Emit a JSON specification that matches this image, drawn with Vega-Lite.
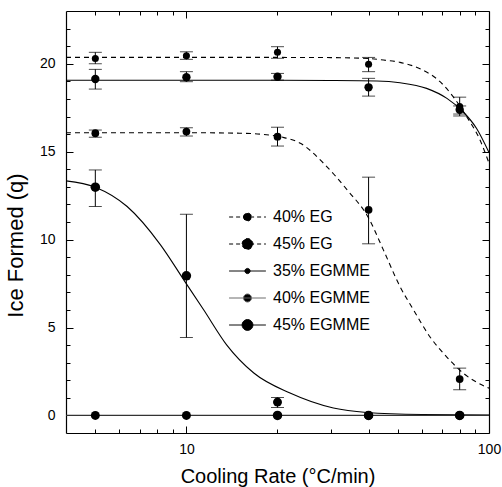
{
  "$schema": "https://vega.github.io/schema/vega-lite/v6.json",
  "width": 423,
  "height": 422,
  "autosize": {"type": "none"},
  "padding": {"left": 66, "top": 11, "right": 13, "bottom": 54},
  "background": "white",
  "config": {
    "view": {"stroke": null},
    "font": "Liberation Sans",
    "axis": {
      "domainColor": "black",
      "domainWidth": 1.2,
      "tickColor": "black",
      "tickWidth": 1,
      "labelColor": "black",
      "labelFont": "Liberation Sans",
      "labelFontSize": 14,
      "titleColor": "black",
      "titleFont": "Liberation Sans",
      "titleFontSize": 20,
      "titleFontWeight": "normal",
      "grid": false
    }
  },
  "datasets": {
    "fits": [
      {"s": "40% EG", "r": 4, "q": 20.36}, {"s": "40% EG", "r": 10, "q": 20.36}, {"s": "40% EG", "r": 20, "q": 20.36}, {"s": "40% EG", "r": 30, "q": 20.35}, {"s": "40% EG", "r": 40, "q": 20.3}, {"s": "40% EG", "r": 44.8, "q": 20.21}, {"s": "40% EG", "r": 50.8, "q": 20.08}, {"s": "40% EG", "r": 59.4, "q": 19.7}, {"s": "40% EG", "r": 68.9, "q": 18.98}, {"s": "40% EG", "r": 76.1, "q": 18.13}, {"s": "40% EG", "r": 84.4, "q": 16.99}, {"s": "40% EG", "r": 93.4, "q": 15.66}, {"s": "40% EG", "r": 100, "q": 14.35},
      {"s": "35% EGMME", "r": 4, "q": 19.06}, {"s": "35% EGMME", "r": 10, "q": 19.06}, {"s": "35% EGMME", "r": 20, "q": 19.06}, {"s": "35% EGMME", "r": 30, "q": 19.05}, {"s": "35% EGMME", "r": 42.6, "q": 19.02}, {"s": "35% EGMME", "r": 50.8, "q": 18.92}, {"s": "35% EGMME", "r": 62.2, "q": 18.6}, {"s": "35% EGMME", "r": 72.6, "q": 18.03}, {"s": "35% EGMME", "r": 82.1, "q": 17.27}, {"s": "35% EGMME", "r": 90.9, "q": 16.33}, {"s": "35% EGMME", "r": 100, "q": 14.95},
      {"s": "45% EG", "r": 4, "q": 16.08}, {"s": "45% EG", "r": 10, "q": 16.08}, {"s": "45% EG", "r": 15, "q": 16.05}, {"s": "45% EG", "r": 18, "q": 15.98}, {"s": "45% EG", "r": 21, "q": 15.8}, {"s": "45% EG", "r": 23.8, "q": 15.48}, {"s": "45% EG", "r": 28.4, "q": 14.34}, {"s": "45% EG", "r": 34, "q": 12.82}, {"s": "45% EG", "r": 40, "q": 11.23}, {"s": "45% EG", "r": 44.8, "q": 9.4}, {"s": "45% EG", "r": 50.8, "q": 7.33}, {"s": "45% EG", "r": 56.3, "q": 6.0}, {"s": "45% EG", "r": 63.7, "q": 4.49}, {"s": "45% EG", "r": 72.3, "q": 3.35}, {"s": "45% EG", "r": 82.1, "q": 2.41}, {"s": "45% EG", "r": 97, "q": 1.65}, {"s": "45% EG", "r": 100, "q": 1.55},
      {"s": "45% EGMME", "r": 4, "q": 13.34}, {"s": "45% EGMME", "r": 5, "q": 12.98}, {"s": "45% EGMME", "r": 6.37, "q": 11.88}, {"s": "45% EGMME", "r": 8.21, "q": 9.7}, {"s": "45% EGMME", "r": 9.8, "q": 7.71}, {"s": "45% EGMME", "r": 11.4, "q": 6.01}, {"s": "45% EGMME", "r": 13.6, "q": 4.0}, {"s": "45% EGMME", "r": 16.7, "q": 2.41}, {"s": "45% EGMME", "r": 22, "q": 1.27}, {"s": "45% EGMME", "r": 30.6, "q": 0.42}, {"s": "45% EGMME", "r": 39.4, "q": 0.17}, {"s": "45% EGMME", "r": 60, "q": 0.05}, {"s": "45% EGMME", "r": 100, "q": 0.02},
      {"s": "40% EGMME", "r": 4, "q": 0}, {"s": "40% EGMME", "r": 100, "q": 0}
    ],
    "pts": [
      {"s": "40% EG", "r": 5, "q": 20.3, "lo": 20.0, "hi": 20.65},
      {"s": "40% EG", "r": 10, "q": 20.45, "lo": 20.25, "hi": 20.68},
      {"s": "40% EG", "r": 20, "q": 20.65, "lo": 20.31, "hi": 20.97},
      {"s": "40% EG", "r": 40, "q": 19.97, "lo": 19.55, "hi": 20.36},
      {"s": "40% EG", "r": 80, "q": 17.56, "lo": 17.03, "hi": 18.1},
      {"s": "45% EG", "r": 5, "q": 16.05, "lo": 15.82, "hi": 16.23},
      {"s": "45% EG", "r": 10, "q": 16.14, "lo": 15.89, "hi": 16.36},
      {"s": "45% EG", "r": 20, "q": 15.85, "lo": 15.32, "hi": 16.39},
      {"s": "45% EG", "r": 40, "q": 11.69, "lo": 9.76, "hi": 13.55},
      {"s": "45% EG", "r": 80, "q": 2.07, "lo": 1.46, "hi": 2.69},
      {"s": "35% EGMME", "r": 5, "q": 19.13, "lo": 18.56, "hi": 19.68},
      {"s": "35% EGMME", "r": 10, "q": 19.23, "lo": 18.98, "hi": 19.55},
      {"s": "35% EGMME", "r": 20, "q": 19.26, "lo": 19.07, "hi": 19.45},
      {"s": "35% EGMME", "r": 40, "q": 18.66, "lo": 18.16, "hi": 19.17},
      {"s": "35% EGMME", "r": 80, "q": 17.38, "lo": 17.14, "hi": 17.6},
      {"s": "40% EGMME", "r": 5, "q": 0},
      {"s": "40% EGMME", "r": 10, "q": 0},
      {"s": "40% EGMME", "r": 20, "q": 0.76, "lo": 0.45, "hi": 1.02},
      {"s": "40% EGMME", "r": 40, "q": 0},
      {"s": "40% EGMME", "r": 80, "q": 0},
      {"s": "45% EGMME", "r": 5, "q": 12.98, "lo": 11.88, "hi": 13.96},
      {"s": "45% EGMME", "r": 10, "q": 7.94, "lo": 4.43, "hi": 11.44},
      {"s": "45% EGMME", "r": 20, "q": 0},
      {"s": "45% EGMME", "r": 40, "q": 0},
      {"s": "45% EGMME", "r": 80, "q": 0}
    ],
    "leg": [
      {"s": "40% EG", "r": 1000, "q": 10},
      {"s": "45% EG", "r": 1000, "q": 10},
      {"s": "35% EGMME", "r": 1000, "q": 10},
      {"s": "40% EGMME", "r": 1000, "q": 10},
      {"s": "45% EGMME", "r": 1000, "q": 10}
    ]
  },
  "layer": [
    {
      "data": {"name": "fits"},
      "transform": [{"filter": "datum.s == '40% EG' || datum.s == '45% EG'"}],
      "mark": {"type": "line", "interpolate": "monotone", "strokeWidth": 1.1, "clip": true, "color": "black", "strokeDash": [5, 4]},
      "encoding": {
        "x": {"field": "r", "type": "quantitative",
          "scale": {"type": "log", "domain": [4, 100], "nice": false},
          "axis": {"orient": "bottom", "values": [10, 100], "format": "d", "tickSize": -7, "labelPadding": 16, "title": "Cooling Rate (°C/min)", "titlePadding": 10, "labelFlush": false}},
        "y": {"field": "q", "type": "quantitative",
          "scale": {"domain": [-1, 23], "nice": false, "zero": false},
          "axis": {"orient": "left", "values": [0, 5, 10, 15, 20], "tickSize": -7, "labelPadding": 18, "title": "Ice Formed (q)", "titleFontSize": 22, "titleY": 234, "titlePadding": 12}},
        "detail": {"field": "s"}
      }
    },
    {
      "data": {"name": "fits"},
      "transform": [{"filter": "datum.s == '35% EGMME' || datum.s == '45% EGMME'"}],
      "mark": {"type": "line", "interpolate": "monotone", "strokeWidth": 1.1, "clip": true, "color": "black"},
      "encoding": {
        "x": {"field": "r", "type": "quantitative", "axis": null},
        "y": {"field": "q", "type": "quantitative", "axis": null},
        "detail": {"field": "s"}
      }
    },
    {
      "data": {"name": "fits"},
      "transform": [{"filter": "datum.s == '40% EGMME'"}],
      "mark": {"type": "line", "strokeWidth": 1.2, "clip": true, "color": "#333333"},
      "encoding": {
        "x": {"field": "r", "type": "quantitative", "axis": null},
        "y": {"field": "q", "type": "quantitative", "axis": null}
      }
    },
    {
      "data": {"name": "pts"},
      "transform": [{"filter": "isValid(datum.lo)"}],
      "mark": {"type": "rule", "color": "black", "strokeWidth": 1},
      "encoding": {
        "x": {"field": "r", "type": "quantitative",
          "axis": {"orient": "bottom", "values": [5, 6, 7, 8, 9, 20, 30, 40, 50, 60, 70, 80, 90], "labels": false, "tickSize": -4, "domain": false, "title": null}},
        "y": {"field": "lo", "type": "quantitative",
          "axis": {"orient": "left", "values": [1, 2, 3, 4, 6, 7, 8, 9, 11, 12, 13, 14, 16, 17, 18, 19, 21, 22], "labels": false, "tickSize": -4, "domain": false, "title": null}},
        "y2": {"field": "hi"}
      }
    },
    {
      "data": {"name": "pts"},
      "transform": [{"filter": "isValid(datum.lo)"}],
      "mark": {"type": "tick", "orient": "horizontal", "size": 13, "thickness": 1, "color": "black"},
      "encoding": {
        "x": {"field": "r", "type": "quantitative",
          "axis": {"orient": "top", "values": [10, 100], "labels": false, "tickSize": -7, "title": null}},
        "y": {"field": "lo", "type": "quantitative",
          "axis": {"orient": "right", "values": [0, 5, 10, 15, 20], "labels": false, "tickSize": -7, "title": null}}
      }
    },
    {
      "data": {"name": "pts"},
      "transform": [{"filter": "isValid(datum.hi)"}],
      "mark": {"type": "tick", "orient": "horizontal", "size": 13, "thickness": 1, "color": "black"},
      "encoding": {
        "x": {"field": "r", "type": "quantitative",
          "axis": {"orient": "top", "values": [5, 6, 7, 8, 9, 20, 30, 40, 50, 60, 70, 80, 90], "labels": false, "tickSize": -4, "domain": false, "title": null}},
        "y": {"field": "hi", "type": "quantitative",
          "axis": {"orient": "right", "values": [1, 2, 3, 4, 6, 7, 8, 9, 11, 12, 13, 14, 16, 17, 18, 19, 21, 22], "labels": false, "tickSize": -4, "domain": false, "title": null}}
      }
    },
    {
      "data": {"name": "pts"},
      "mark": {"type": "point", "shape": "circle", "filled": true, "color": "black", "opacity": 1, "strokeWidth": 0},
      "encoding": {
        "x": {"field": "r", "type": "quantitative", "axis": null},
        "y": {"field": "q", "type": "quantitative", "axis": null},
        "size": {"field": "s", "type": "nominal",
          "scale": {"domain": ["45% EGMME", "40% EGMME", "35% EGMME", "45% EG", "40% EG"], "range": [90, 50, 22, 90, 55]},
          "legend": null}
      }
    },
    {
      "data": {"name": "leg"},
      "mark": {"type": "point", "filled": true, "color": "black", "clip": true},
      "encoding": {
        "x": {"field": "r", "type": "quantitative", "axis": null},
        "y": {"field": "q", "type": "quantitative", "axis": null},
        "shape": {"field": "s", "type": "nominal",
          "scale": {"domain": ["40% EG", "45% EG", "35% EGMME", "40% EGMME", "45% EGMME"],
            "range": [
              "M-0.92,0L0.92,0M-0.2,0A0.2,0.2,0,1,1,0.2,0A0.2,0.2,0,1,1,-0.2,0Z",
              "M-0.92,0L0.92,0M-0.27,0A0.27,0.27,0,1,1,0.27,0A0.27,0.27,0,1,1,-0.27,0Z",
              "M-0.92,0L0.92,0M-0.13,0A0.13,0.13,0,1,1,0.13,0A0.13,0.13,0,1,1,-0.13,0Z",
              "M-0.92,0L0.92,0M-0.2,0A0.2,0.2,0,1,1,0.2,0A0.2,0.2,0,1,1,-0.2,0Z",
              "M-0.92,0L0.92,0M-0.27,0A0.27,0.27,0,1,1,0.27,0A0.27,0.27,0,1,1,-0.27,0Z"
            ]},
          "legend": {"title": null, "orient": "none", "legendX": 161, "legendY": 199, "symbolSize": 1600, "clipHeight": 14, "rowPadding": 11, "labelOffset": 5, "labelFontSize": 16, "labelFont": "Liberation Sans", "labelColor": "black", "symbolStrokeWidth": 1, "symbolFillColor": "black", "symbolOpacity": 1, "padding": 0, "offset": 0}},
        "stroke": {"field": "s", "type": "nominal",
          "scale": {"domain": ["40% EG", "45% EG", "35% EGMME", "40% EGMME", "45% EGMME"], "range": ["black", "black", "black", "#666666", "black"]}},
        "strokeDash": {"field": "s", "type": "nominal",
          "scale": {"domain": ["40% EG", "45% EG", "35% EGMME", "40% EGMME", "45% EGMME"], "range": [[4, 3], [4, 3], [1, 0], [1, 0], [1, 0]]}}
      }
    }
  ],
  "resolve": {"axis": {"x": "independent", "y": "independent"}}
}
